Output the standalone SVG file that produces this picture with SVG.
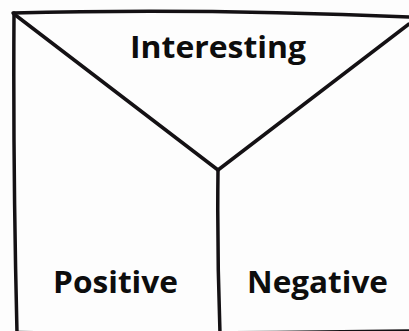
<svg xmlns="http://www.w3.org/2000/svg" width="409" height="331" viewBox="0 0 409 331">
<style>
.ln{fill:none;stroke:#141114;stroke-width:3.5;stroke-linecap:round;stroke-linejoin:round}
.lb{font-family:"Open Sans","Noto Sans","Liberation Sans",sans-serif;font-weight:700;font-size:30px;fill:#0d0d0d}
</style>
<rect width="409" height="331" fill="#fdfdfd"/>
<g id="connectors">
<path class="ln" d="M13,13 Q200,8 410,17"/>
<path class="ln" d="M14,13 Q13,170 17,333"/>
<path class="ln" d="M14,14 L218,170"/>
<path class="ln" d="M409,24 L218,170"/>
<path class="ln" d="M218,170 Q217,250 220,333"/>
<path class="ln" d="M17,332.5 Q200,334 409,331"/>
</g>
<g id="interesting"><text class="lb" x="130" y="58" textLength="176" lengthAdjust="spacingAndGlyphs">Interesting</text></g>
<g id="positive"><text class="lb" x="53" y="293" textLength="125" lengthAdjust="spacingAndGlyphs">Positive</text></g>
<g id="negative"><text class="lb" x="247" y="293" textLength="141" lengthAdjust="spacingAndGlyphs">Negative</text></g>
</svg>
